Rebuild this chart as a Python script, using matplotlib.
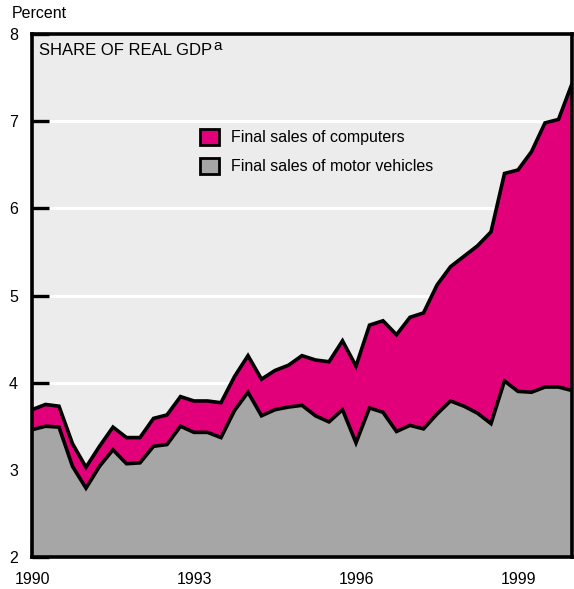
import numpy as np
import matplotlib
matplotlib.use('Agg')
import matplotlib.pyplot as plt
from matplotlib.patches import Patch

# quarterly, 1990Q1 - 2000Q1, percent of real GDP
start_year = 1990
total_share = [3.69, 3.75, 3.73, 3.30, 3.03, 3.27, 3.49, 3.37, 3.37, 3.59,
               3.63, 3.84, 3.79, 3.79, 3.77, 4.07, 4.31, 4.04, 4.14, 4.20,
               4.31, 4.26, 4.24, 4.48, 4.19, 4.66, 4.71, 4.55, 4.75, 4.80,
               5.12, 5.33, 5.45, 5.57, 5.73, 6.40, 6.44, 6.65, 6.98, 7.02,
               7.43]
motor_vehicles = [3.46, 3.50, 3.49, 3.04, 2.79, 3.04, 3.23, 3.07, 3.08, 3.27,
                  3.29, 3.50, 3.43, 3.43, 3.37, 3.68, 3.89, 3.62, 3.69, 3.72,
                  3.74, 3.62, 3.55, 3.69, 3.31, 3.71, 3.66, 3.44, 3.51, 3.47,
                  3.64, 3.79, 3.73, 3.65, 3.53, 4.02, 3.90, 3.89, 3.95, 3.95,
                  3.91]
x_ticks = [1990, 1993, 1996, 1999]
y_ticks = [2, 3, 4, 5, 6, 7, 8]
labels = ['Final sales of computers', 'Final sales of motor vehicles']

MAGENTA = '#e2007a'
GRAY = '#a6a6a6'
BG = '#ececec'
FONT = 'Liberation Sans'

mv = np.array(motor_vehicles)
tot = np.array(total_share)
x = start_year + np.arange(len(mv)) * 0.25

fig = plt.figure(figsize=(5.74, 5.89), dpi=100)
ax = fig.add_axes([32 / 574, 32 / 589, 540 / 574, 523 / 589])
ax.set_facecolor(BG)

for yv in y_ticks[1:-1]:
    ax.axhline(yv, color='white', lw=2.2, zorder=1)

ax.fill_between(x, 2, mv, color=GRAY, lw=0, zorder=2)
ax.fill_between(x, mv, tot, color=MAGENTA, lw=0, zorder=2)
ax.plot(x, mv, color='black', lw=2.6, zorder=3, solid_joinstyle='miter')
ax.plot(x, tot, color='black', lw=2.6, zorder=3, solid_joinstyle='miter')

ax.set_xlim(1990, 2000)
ax.set_ylim(2, 8)
ax.set_xticks(x_ticks)
ax.set_yticks(y_ticks)
ax.tick_params(axis='both', direction='in', length=12.5, width=2.4, color='black',
               labelsize=11.5, zorder=5)
ax.tick_params(axis='y', pad=10)
ax.tick_params(axis='x', pad=11)
for lab in ax.get_xticklabels() + ax.get_yticklabels():
    lab.set_family(FONT)
for s in ax.spines.values():
    s.set_linewidth(2.6)
    s.set_zorder(6)

fig.text(12 / 574, 1 - 14 / 589, 'Percent', family=FONT, fontsize=11.5,
         ha='left', va='center')
ax.text(0.013, 0.982, 'SHARE OF REAL GDP', transform=ax.transAxes,
        family=FONT, fontsize=12, ha='left', va='top')
ax.text(0.336, 0.99, 'a', transform=ax.transAxes,
        family=FONT, fontsize=11, ha='left', va='top')

handles = [Patch(facecolor=MAGENTA, edgecolor='black', lw=2),
           Patch(facecolor=GRAY, edgecolor='black', lw=2)]
leg = ax.legend(handles, labels, loc='upper left', bbox_to_anchor=(0.297, 0.834),
                frameon=False, handlelength=1.15, handleheight=1.15,
                handletextpad=0.75, labelspacing=0.8, borderpad=0,
                prop={'family': FONT, 'size': 11.5})

fig.savefig('out.png', dpi=100)
